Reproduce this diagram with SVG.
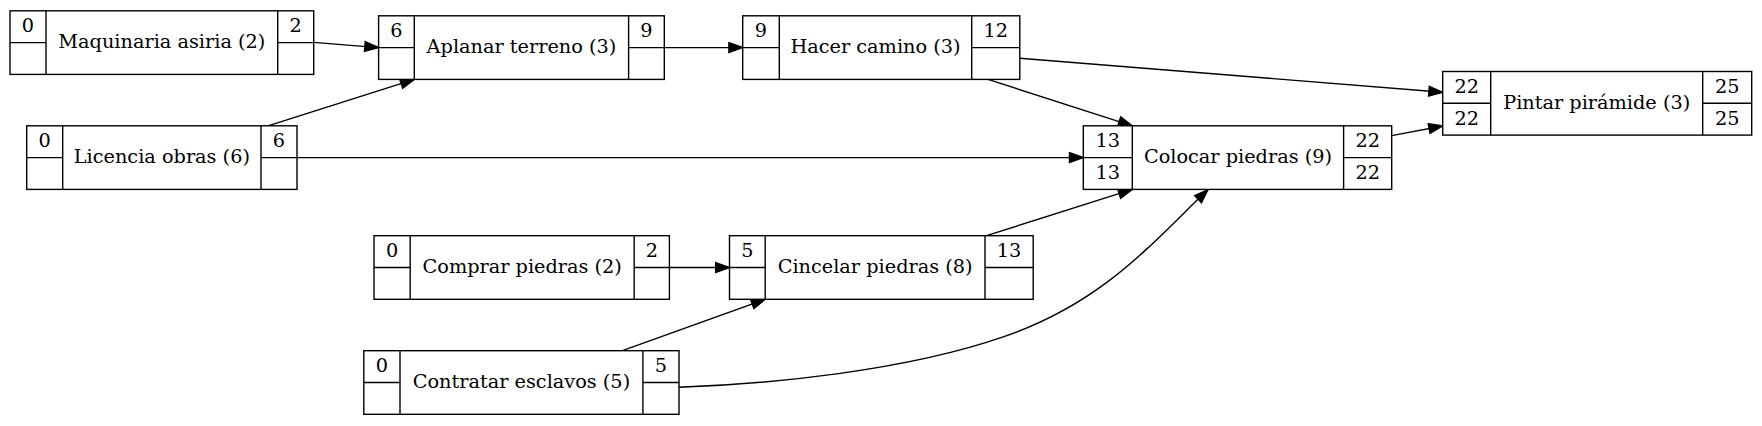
<svg xmlns="http://www.w3.org/2000/svg" width="1762" height="426" viewBox="0 0 1762 426">
<style>
.bg{fill:#fff}
.n rect{fill:#fff;stroke:#000;stroke-width:1.4}
.n line{stroke:#000;stroke-width:1.4}
.n text{font-family:"DejaVu Serif","Liberation Serif",serif;font-size:19.3px;fill:#000;text-anchor:middle}
.e path{fill:none;stroke:#000;stroke-width:1.4;marker-end:url(#ah)}
</style>
<defs>
<marker id="ah" markerUnits="userSpaceOnUse" markerWidth="16" markerHeight="12" refX="13.8" refY="4.9" orient="auto" overflow="visible">
<path d="M0,0 L13.8,4.9 L0,9.8 z" fill="#000" stroke="#000" stroke-width="1.4"/>
</marker>
</defs>
<rect class="bg" x="0" y="0" width="1762" height="426"/>

<g id="edges" class="e">
<path d="M313.7,42.4 L378.6,47.6"/>
<path d="M268,125.8 L414.3,79.4"/>
<path d="M297,157.6 L1083.3,157.6"/>
<path d="M664.3,47.6 L742.7,47.6"/>
<path d="M1019.8,58.3 L1442.7,92.3"/>
<path d="M988,79.4 L1132.3,125.8"/>
<path d="M1391.7,135.6 L1442.7,126"/>
<path d="M669.4,267.5 L729.5,267.5"/>
<path d="M622.4,350.7 L765.2,299.3"/>
<path d="M986.5,235.7 L1132.3,189.4"/>
<path d="M679,387.3 C770,384 905,371 1004,336.7 S1150,245 1208,189.6"/>
</g>

<g id="maquinaria" class="n">
<rect x="10" y="10.8" width="303.7" height="63.6"/>
<line x1="46" y1="10.8" x2="46" y2="74.4"/>
<line x1="277.7" y1="10.8" x2="277.7" y2="74.4"/>
<line x1="10" y1="42.6" x2="46" y2="42.6"/>
<line x1="277.7" y1="42.6" x2="313.7" y2="42.6"/>
<text x="28" y="32.2">0</text>
<text x="161.85" y="48.4">Maquinaria asiria (2)</text>
<text x="295.7" y="32.2">2</text>
</g>

<g id="aplanar" class="n">
<rect x="378.6" y="15.8" width="285.7" height="63.6"/>
<line x1="414.3" y1="15.8" x2="414.3" y2="79.4"/>
<line x1="628.6" y1="15.8" x2="628.6" y2="79.4"/>
<line x1="378.6" y1="47.6" x2="414.3" y2="47.6"/>
<line x1="628.6" y1="47.6" x2="664.3" y2="47.6"/>
<text x="396.45" y="37.2">6</text>
<text x="521.45" y="53.4">Aplanar terreno (3)</text>
<text x="646.45" y="37.2">9</text>
</g>

<g id="licencia" class="n">
<rect x="26.7" y="125.8" width="270.3" height="63.6"/>
<line x1="62.7" y1="125.8" x2="62.7" y2="189.4"/>
<line x1="261" y1="125.8" x2="261" y2="189.4"/>
<line x1="26.7" y1="157.6" x2="62.7" y2="157.6"/>
<line x1="261" y1="157.6" x2="297" y2="157.6"/>
<text x="44.7" y="147.2">0</text>
<text x="161.85" y="163.4">Licencia obras (6)</text>
<text x="279" y="147.2">6</text>
</g>

<g id="hacer" class="n">
<rect x="742.7" y="15.8" width="277.1" height="63.6"/>
<line x1="779.3" y1="15.8" x2="779.3" y2="79.4"/>
<line x1="971.7" y1="15.8" x2="971.7" y2="79.4"/>
<line x1="742.7" y1="47.6" x2="779.3" y2="47.6"/>
<line x1="971.7" y1="47.6" x2="1019.8" y2="47.6"/>
<text x="761" y="37.2">9</text>
<text x="875.5" y="53.4">Hacer camino (3)</text>
<text x="995.75" y="37.2">12</text>
</g>

<g id="colocar" class="n">
<rect x="1083.3" y="125.8" width="308.4" height="63.6"/>
<line x1="1132.3" y1="125.8" x2="1132.3" y2="189.4"/>
<line x1="1343.6" y1="125.8" x2="1343.6" y2="189.4"/>
<line x1="1083.3" y1="157.6" x2="1132.3" y2="157.6"/>
<line x1="1343.6" y1="157.6" x2="1391.7" y2="157.6"/>
<text x="1107.8" y="147.2">13</text>
<text x="1107.8" y="179">13</text>
<text x="1237.95" y="163.4">Colocar piedras (9)</text>
<text x="1367.65" y="147.2">22</text>
<text x="1367.65" y="179">22</text>
</g>

<g id="pintar" class="n">
<rect x="1442.7" y="71.5" width="309" height="63.6"/>
<line x1="1490.7" y1="71.5" x2="1490.7" y2="135.1"/>
<line x1="1702.7" y1="71.5" x2="1702.7" y2="135.1"/>
<line x1="1442.7" y1="103.3" x2="1490.7" y2="103.3"/>
<line x1="1702.7" y1="103.3" x2="1751.7" y2="103.3"/>
<text x="1466.7" y="92.9">22</text>
<text x="1466.7" y="124.7">22</text>
<text x="1596.7" y="109.1">Pintar pirámide (3)</text>
<text x="1727.2" y="92.9">25</text>
<text x="1727.2" y="124.7">25</text>
</g>

<g id="comprar" class="n">
<rect x="374" y="235.7" width="295.4" height="63.6"/>
<line x1="410.2" y1="235.7" x2="410.2" y2="299.3"/>
<line x1="634.2" y1="235.7" x2="634.2" y2="299.3"/>
<line x1="374" y1="267.5" x2="410.2" y2="267.5"/>
<line x1="634.2" y1="267.5" x2="669.4" y2="267.5"/>
<text x="392.1" y="257.1">0</text>
<text x="522.2" y="273.3">Comprar piedras (2)</text>
<text x="651.8" y="257.1">2</text>
</g>

<g id="cincelar" class="n">
<rect x="729.5" y="235.7" width="303.7" height="63.6"/>
<line x1="765.2" y1="235.7" x2="765.2" y2="299.3"/>
<line x1="985" y1="235.7" x2="985" y2="299.3"/>
<line x1="729.5" y1="267.5" x2="765.2" y2="267.5"/>
<line x1="985" y1="267.5" x2="1033.2" y2="267.5"/>
<text x="747.35" y="257.1">5</text>
<text x="875.1" y="273.3">Cincelar piedras (8)</text>
<text x="1009.1" y="257.1">13</text>
</g>

<g id="contratar" class="n">
<rect x="363.8" y="350.7" width="315.2" height="63.6"/>
<line x1="400" y1="350.7" x2="400" y2="414.3"/>
<line x1="642.9" y1="350.7" x2="642.9" y2="414.3"/>
<line x1="363.8" y1="382.5" x2="400" y2="382.5"/>
<line x1="642.9" y1="382.5" x2="679" y2="382.5"/>
<text x="381.9" y="372.1">0</text>
<text x="521.45" y="388.3">Contratar esclavos (5)</text>
<text x="660.95" y="372.1">5</text>
</g>
</svg>
